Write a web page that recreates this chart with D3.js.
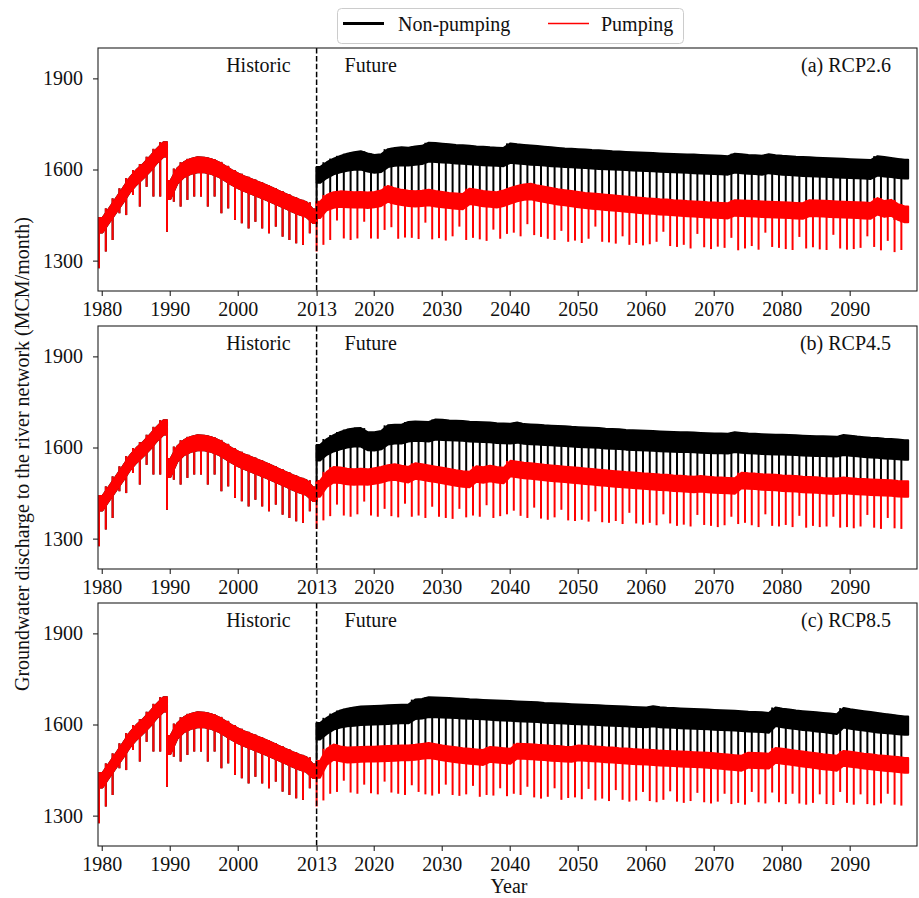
<!DOCTYPE html>
<html>
<head>
<meta charset="utf-8">
<script src="https://cdn.jsdelivr.net/npm/d3@7"></script>
<style>
  body { margin: 0; background: #fff; }
  text { font-family: "Liberation Serif", "Times New Roman", serif; fill: #111; }
</style>
</head>
<body>
<div id="chart"></div>
<script>
// one value per model year: band top, band bottom, and the yearly low spike
// historic run (1980-2011) is the same for both series and all scenarios
var histStart = 1979.6;
var histBreak = 10; // recharge drop at the start of 1990
var histTop = [1440, 1472, 1505, 1538, 1572, 1598, 1618, 1642, 1668, 1690,
  1562, 1603, 1624, 1635, 1640, 1639, 1634, 1625, 1612, 1598,
  1586, 1576, 1567, 1558, 1549, 1539, 1529, 1519, 1509, 1500, 1492, 1468];
var histBot = [1393, 1426, 1458, 1490, 1524, 1550, 1571, 1594, 1621, 1643,
  1503, 1553, 1575, 1586, 1591, 1591, 1586, 1577, 1564, 1550,
  1538, 1528, 1519, 1510, 1501, 1491, 1481, 1471, 1461, 1452, 1444, 1424];
var histDip = [1275, 1330, 1368, 1456, 1450, 1516, 1478, 1543, 1511, 1511,
  1395, 1494, 1478, 1500, 1511, 1511, 1478, 1511, 1456, 1472,
  1434, 1423, 1406, 1428, 1406, 1390, 1412, 1379, 1368, 1357, 1352, 1390];

// future run, model years 2012-2098 (the axis labels the boundary "2013")
var futStart = 2011.6;

// (a) RCP2.6
var npTopA = [1608, 1624, 1636, 1645, 1652, 1657, 1660, 1653,
  1648, 1650, 1667, 1671, 1673, 1672, 1676, 1678, 1688, 1687,
  1685, 1683, 1681, 1680, 1678, 1676, 1675, 1673, 1672, 1671,
  1686, 1683, 1681, 1679, 1677, 1675, 1673, 1671, 1669, 1668,
  1667, 1666, 1664, 1663, 1662, 1660, 1659, 1658, 1657, 1656,
  1655, 1654, 1653, 1652, 1651, 1650, 1649, 1649, 1648, 1647,
  1646, 1645, 1644, 1652, 1650, 1648, 1647, 1645, 1650, 1647,
  1645, 1644, 1642, 1641, 1640, 1639, 1638, 1637, 1636, 1635,
  1634, 1633, 1632, 1631, 1644, 1641, 1638, 1635, 1632];
var npBotA = [1556, 1572, 1584, 1591, 1596, 1599, 1600, 1593,
  1589, 1592, 1608, 1612, 1614, 1613, 1616, 1618, 1626, 1625,
  1623, 1622, 1620, 1619, 1617, 1616, 1614, 1613, 1612, 1611,
  1622, 1620, 1618, 1616, 1615, 1613, 1611, 1610, 1608, 1607,
  1606, 1605, 1603, 1602, 1601, 1600, 1599, 1598, 1597, 1596,
  1595, 1594, 1593, 1592, 1591, 1590, 1589, 1588, 1587, 1586,
  1585, 1584, 1583, 1590, 1588, 1586, 1585, 1583, 1588, 1585,
  1583, 1582, 1580, 1579, 1578, 1577, 1576, 1575, 1574, 1573,
  1572, 1571, 1570, 1569, 1580, 1577, 1575, 1572, 1570];
var pTopA = [1494, 1516, 1525, 1528, 1527, 1525, 1526, 1524,
  1526, 1531, 1546, 1538, 1533, 1530, 1528, 1530, 1533, 1529,
  1526, 1523, 1521, 1519, 1537, 1533, 1529, 1527, 1525, 1531,
  1539, 1546, 1551, 1553, 1547, 1543, 1539, 1535, 1532, 1529,
  1526, 1523, 1521, 1519, 1517, 1515, 1513, 1511, 1509, 1507,
  1505, 1504, 1502, 1501, 1499, 1498, 1496, 1495, 1494, 1492,
  1491, 1490, 1489, 1499, 1498, 1497, 1496, 1495, 1494, 1493,
  1492, 1491, 1490, 1489, 1499, 1498, 1497, 1496, 1495, 1494,
  1493, 1492, 1491, 1490, 1506, 1496, 1500, 1486, 1478];
var pBotA = [1440, 1466, 1474, 1477, 1476, 1475, 1476, 1473,
  1476, 1480, 1494, 1487, 1483, 1480, 1478, 1480, 1482, 1478,
  1476, 1473, 1471, 1469, 1486, 1483, 1479, 1477, 1475, 1480,
  1488, 1495, 1500, 1502, 1497, 1493, 1489, 1485, 1482, 1479,
  1476, 1473, 1471, 1469, 1467, 1465, 1463, 1461, 1459, 1457,
  1455, 1454, 1452, 1451, 1449, 1448, 1446, 1445, 1444, 1442,
  1441, 1440, 1439, 1448, 1447, 1446, 1445, 1444, 1443, 1442,
  1441, 1440, 1439, 1438, 1447, 1446, 1445, 1444, 1443, 1442,
  1441, 1440, 1439, 1438, 1452, 1444, 1448, 1434, 1426];
var pDipA = [1330, 1352, 1368, 1432, 1373, 1368, 1373, 1428,
  1373, 1372, 1401, 1410, 1372, 1376, 1375, 1371, 1425, 1370,
  1374, 1366, 1380, 1412, 1368, 1375, 1370, 1365, 1402, 1372,
  1388, 1392, 1380, 1420, 1384, 1378, 1372, 1368, 1398, 1362,
  1366, 1358, 1372, 1412, 1362, 1360, 1356, 1380, 1352, 1358,
  1350, 1354, 1362, 1395, 1348, 1345, 1352, 1340, 1388, 1344,
  1338, 1346, 1342, 1375, 1334, 1340, 1348, 1336, 1392, 1345,
  1342, 1338, 1335, 1378, 1340, 1344, 1337, 1335, 1385, 1340,
  1336, 1338, 1342, 1380, 1345, 1334, 1365, 1328, 1335];

// (b) RCP4.5
var npTopB = [1608, 1628, 1641, 1651, 1659, 1663, 1664, 1651,
  1650, 1654, 1673, 1675, 1675, 1684, 1686, 1685, 1684, 1692,
  1691, 1689, 1688, 1687, 1685, 1684, 1683, 1682, 1680, 1679,
  1678, 1682, 1677, 1676, 1675, 1673, 1672, 1671, 1670, 1668,
  1667, 1666, 1665, 1664, 1662, 1661, 1660, 1658, 1657, 1656,
  1655, 1654, 1653, 1652, 1651, 1650, 1650, 1649, 1648, 1647,
  1646, 1646, 1645, 1650, 1648, 1646, 1645, 1644, 1643, 1642,
  1642, 1641, 1640, 1639, 1638, 1637, 1637, 1636, 1635, 1641,
  1639, 1636, 1634, 1632, 1631, 1629, 1628, 1626, 1624];
var npBotB = [1557, 1576, 1587, 1594, 1600, 1603, 1603, 1591,
  1590, 1594, 1610, 1613, 1613, 1620, 1622, 1621, 1620, 1626,
  1625, 1624, 1623, 1622, 1620, 1619, 1618, 1617, 1615, 1614,
  1613, 1616, 1612, 1611, 1610, 1608, 1607, 1606, 1605, 1603,
  1602, 1601, 1600, 1599, 1597, 1596, 1595, 1593, 1592, 1591,
  1590, 1589, 1588, 1587, 1586, 1585, 1585, 1584, 1583, 1582,
  1581, 1581, 1580, 1585, 1583, 1581, 1580, 1579, 1578, 1577,
  1577, 1576, 1575, 1574, 1573, 1572, 1572, 1571, 1570, 1575,
  1573, 1571, 1569, 1567, 1566, 1564, 1563, 1561, 1560];
var pTopB = [1490, 1520, 1536, 1534, 1530, 1528, 1530, 1528,
  1532, 1536, 1542, 1545, 1540, 1536, 1548, 1545, 1541, 1537,
  1533, 1529, 1525, 1522, 1520, 1538, 1535, 1540, 1536, 1533,
  1556, 1553, 1550, 1548, 1546, 1543, 1541, 1539, 1537, 1535,
  1533, 1531, 1529, 1527, 1525, 1523, 1521, 1519, 1518, 1516,
  1514, 1513, 1511, 1510, 1508, 1507, 1505, 1504, 1506, 1504,
  1502, 1501, 1500, 1499, 1517, 1515, 1514, 1512, 1511, 1510,
  1508, 1507, 1506, 1504, 1503, 1502, 1500, 1499, 1498, 1501,
  1499, 1497, 1496, 1495, 1494, 1493, 1492, 1490, 1489];
var pBotB = [1438, 1470, 1485, 1483, 1479, 1477, 1479, 1477,
  1481, 1485, 1491, 1494, 1489, 1485, 1497, 1494, 1490, 1486,
  1482, 1478, 1474, 1471, 1469, 1487, 1484, 1489, 1485, 1482,
  1505, 1502, 1499, 1497, 1495, 1492, 1490, 1488, 1486, 1484,
  1482, 1480, 1478, 1476, 1474, 1472, 1470, 1468, 1467, 1465,
  1463, 1462, 1460, 1459, 1457, 1456, 1454, 1453, 1455, 1453,
  1451, 1450, 1449, 1448, 1466, 1464, 1463, 1461, 1460, 1459,
  1457, 1456, 1455, 1453, 1452, 1451, 1449, 1448, 1447, 1450,
  1448, 1446, 1445, 1444, 1443, 1442, 1441, 1439, 1438];
var pDipB = [1332, 1360, 1374, 1412, 1376, 1372, 1380, 1422,
  1376, 1372, 1398, 1374, 1370, 1415, 1372, 1376, 1368, 1405,
  1372, 1368, 1365, 1398, 1370, 1376, 1372, 1410, 1368, 1374,
  1380, 1392, 1375, 1368, 1402, 1366, 1362, 1370, 1395, 1360,
  1358, 1362, 1356, 1390, 1354, 1352, 1358, 1348, 1385, 1350,
  1346, 1352, 1344, 1380, 1350, 1342, 1346, 1340, 1378, 1345,
  1342, 1338, 1344, 1372, 1348, 1352, 1344, 1338, 1380, 1342,
  1340, 1345, 1338, 1375, 1336, 1342, 1338, 1340, 1372, 1336,
  1338, 1334, 1340, 1378, 1336, 1332, 1368, 1334, 1332];

// (c) RCP8.5
var npTopC = [1605, 1622, 1636, 1646, 1652, 1656, 1659, 1660,
  1661, 1662, 1663, 1664, 1665, 1666, 1682, 1684, 1690, 1689,
  1688, 1687, 1686, 1685, 1683, 1682, 1681, 1680, 1679, 1678,
  1677, 1676, 1675, 1674, 1673, 1671, 1670, 1669, 1668, 1667,
  1666, 1665, 1664, 1663, 1662, 1661, 1660, 1659, 1658, 1657,
  1656, 1660, 1657, 1655, 1654, 1653, 1652, 1651, 1650, 1649,
  1648, 1647, 1646, 1645, 1644, 1642, 1641, 1640, 1638, 1656,
  1652, 1649, 1646, 1644, 1642, 1640, 1638, 1636, 1634, 1654,
  1650, 1647, 1644, 1641, 1638, 1635, 1632, 1629, 1626];
var npBotC = [1551, 1569, 1583, 1590, 1594, 1596, 1598, 1599,
  1600, 1601, 1602, 1603, 1604, 1604, 1618, 1620, 1625, 1624,
  1623, 1622, 1621, 1620, 1619, 1618, 1617, 1616, 1614, 1613,
  1612, 1611, 1610, 1609, 1608, 1606, 1605, 1604, 1603, 1602,
  1601, 1600, 1599, 1598, 1597, 1596, 1595, 1594, 1593, 1592,
  1591, 1594, 1591, 1590, 1589, 1588, 1587, 1586, 1585, 1584,
  1583, 1582, 1581, 1580, 1579, 1577, 1576, 1575, 1573, 1595,
  1591, 1588, 1585, 1582, 1580, 1577, 1575, 1572, 1569, 1590,
  1586, 1583, 1580, 1577, 1574, 1572, 1570, 1568, 1566];
var pTopC = [1480, 1520, 1534, 1528, 1524, 1525, 1526, 1527,
  1527, 1528, 1529, 1530, 1531, 1531, 1533, 1536, 1539, 1535,
  1531, 1528, 1525, 1522, 1520, 1518, 1516, 1526, 1524, 1522,
  1520, 1537, 1536, 1535, 1533, 1532, 1530, 1529, 1527, 1526,
  1531, 1530, 1528, 1527, 1525, 1524, 1522, 1521, 1519, 1518,
  1517, 1516, 1514, 1513, 1512, 1511, 1510, 1509, 1508, 1507,
  1505, 1503, 1501, 1499, 1497, 1507, 1506, 1505, 1504, 1523,
  1520, 1517, 1514, 1511, 1508, 1505, 1502, 1500, 1497, 1513,
  1510, 1507, 1504, 1502, 1499, 1497, 1495, 1493, 1490];
var pBotC = [1425, 1468, 1484, 1479, 1475, 1476, 1477, 1478,
  1478, 1479, 1480, 1481, 1482, 1482, 1484, 1487, 1490, 1486,
  1482, 1479, 1476, 1473, 1471, 1469, 1467, 1477, 1475, 1473,
  1471, 1488, 1487, 1486, 1484, 1483, 1481, 1480, 1478, 1477,
  1482, 1481, 1479, 1478, 1476, 1475, 1473, 1472, 1470, 1469,
  1468, 1467, 1465, 1464, 1463, 1462, 1461, 1460, 1459, 1458,
  1456, 1454, 1452, 1450, 1448, 1458, 1457, 1456, 1455, 1474,
  1471, 1468, 1465, 1462, 1459, 1456, 1453, 1451, 1448, 1464,
  1461, 1458, 1455, 1453, 1450, 1448, 1446, 1444, 1441];
var pDipC = [1330, 1350, 1372, 1378, 1415, 1376, 1372, 1402,
  1374, 1370, 1412, 1376, 1372, 1368, 1400, 1378, 1370, 1366,
  1372, 1402, 1368, 1365, 1370, 1398, 1362, 1368, 1366, 1390,
  1364, 1372, 1368, 1395, 1360, 1356, 1362, 1390, 1352, 1358,
  1360, 1354, 1388, 1350, 1356, 1348, 1384, 1352, 1346, 1350,
  1378, 1348, 1344, 1352, 1380, 1346, 1342, 1348, 1375, 1344,
  1340, 1346, 1372, 1338, 1342, 1336, 1378, 1344, 1340, 1376,
  1344, 1338, 1372, 1340, 1336, 1342, 1370, 1338, 1335, 1378,
  1342, 1336, 1370, 1338, 1334, 1340, 1372, 1336, 1333];

var panelTitles = ["(a) RCP2.6", "(b) RCP4.5", "(c) RCP8.5"];
var npTops = [npTopA, npTopB, npTopC];
var npBots = [npBotA, npBotB, npBotC];
var pTops = [pTopA, pTopB, pTopC];
var pBots = [pBotA, pBotB, pBotC];
var pDips = [pDipA, pDipB, pDipC];

var xTickPos = [1980, 1990, 2000, futStart, 2020, 2030, 2040, 2050, 2060, 2070, 2080, 2090];
var xTickLabels = ["1980", "1990", "2000", "2013", "2020", "2030", "2040", "2050", "2060", "2070", "2080", "2090"];
var yTicks = [1300, 1600, 1900];

var seriesNames = ["Non-pumping", "Pumping"];
var seriesColors = ["#000000", "#ff0000"];

var width = 919, height = 898;
var left = 98, right = 917, panelH = 243;
var panelTops = [48, 326, 603];

var svg = d3.select("#chart")
  .append("svg")
  .attr("width", width)
  .attr("height", height);

var x = d3.scaleLinear().domain([1979.45, 2099.9]).range([left, right]);

// annual values sit mid-year, the band is held flat out to the segment ends
function bandPoints(start, top, bot) {
  var pts = top.map((t, i) => ({ x: start + i + 0.5, top: t, bot: bot[i] }));
  pts.unshift({ x: start, top: top[0], bot: bot[0] });
  pts.push({ x: start + top.length, top: top[top.length - 1], bot: bot[bot.length - 1] });
  return pts;
}

function drawBand(g, y, start, top, bot, color) {
  var area = d3.area()
    .x((d) => x(d.x))
    .y0((d) => y(d.bot))
    .y1((d) => y(d.top));
  g.append("path")
    .datum(bandPoints(start, top, bot))
    .attr("d", area)
    .attr("fill", color)
    .attr("stroke", color)
    .attr("stroke-width", 2)
    .attr("stroke-linejoin", "round");
}

// the spike at each year start runs from the higher of the two neighbouring tops
function drawDips(g, y, start, from, to, color) {
  g.append("g")
    .selectAll("line")
    .data(from)
    .enter()
    .append("line")
    .attr("x1", (d, i) => x(start + i))
    .attr("x2", (d, i) => x(start + i))
    .attr("y1", (d, i) => y(i > 0 ? Math.max(d, from[i - 1]) : d))
    .attr("y2", (d, i) => y(to[i]))
    .attr("stroke", color)
    .attr("stroke-width", 2);
}

function drawHistoric(g, y, color) {
  var b = histBreak;
  drawBand(g, y, histStart, histTop.slice(0, b), histBot.slice(0, b), color);
  drawBand(g, y, histStart + b, histTop.slice(b), histBot.slice(b), color);
  drawDips(g, y, histStart, histTop, histDip, color);
}

panelTops.forEach((top, k) => {
  var y = d3.scaleLinear().domain([1200, 2000]).range([top + panelH, top]);
  var g = svg.append("g");

  // non-pumping first, pumping drawn over it
  drawHistoric(g, y, seriesColors[0]);
  drawBand(g, y, futStart, npTops[k], npBots[k], seriesColors[0]);
  drawDips(g, y, futStart, npTops[k], pBots[k], seriesColors[0]);

  drawHistoric(g, y, seriesColors[1]);
  drawBand(g, y, futStart, pTops[k], pBots[k], seriesColors[1]);
  drawDips(g, y, futStart, pTops[k], pDips[k], seriesColors[1]);

  g.append("line")
    .attr("x1", x(futStart)).attr("x2", x(futStart))
    .attr("y1", top).attr("y2", top + panelH)
    .attr("stroke", "#000")
    .attr("stroke-width", 1.5)
    .attr("stroke-dasharray", "5.5,2.4");

  g.append("rect")
    .attr("x", left).attr("y", top)
    .attr("width", right - left).attr("height", panelH)
    .attr("fill", "none")
    .attr("stroke", "#222")
    .attr("stroke-width", 1.1);

  var xAxis = g.append("g")
    .attr("transform", `translate(0,${top + panelH})`)
    .call(d3.axisBottom(x).tickValues(xTickPos).tickFormat((d, i) => xTickLabels[i]).tickSize(5).tickPadding(6));
  var yAxis = g.append("g")
    .attr("transform", `translate(${left},0)`)
    .call(d3.axisLeft(y).tickValues(yTicks).tickFormat(d3.format("d")).tickSize(5).tickPadding(10));
  [xAxis, yAxis].forEach((a) => {
    a.select(".domain").remove();
    a.selectAll("line").attr("stroke", "#222").attr("stroke-width", 1.1);
    a.selectAll("text")
      .attr("font-family", "Liberation Serif, serif")
      .attr("font-size", 20)
      .attr("fill", "#111");
  });

  g.append("text")
    .attr("x", x(futStart) - 26).attr("y", top + 24)
    .attr("text-anchor", "end")
    .attr("font-size", 20)
    .text("Historic");
  g.append("text")
    .attr("x", x(futStart) + 28).attr("y", top + 24)
    .attr("font-size", 20)
    .text("Future");
  g.append("text")
    .attr("x", right - 26).attr("y", top + 24)
    .attr("text-anchor", "end")
    .attr("font-size", 20)
    .text(panelTitles[k]);
});

svg.append("text")
  .attr("transform", "translate(29,454) rotate(-90)")
  .attr("text-anchor", "middle")
  .attr("font-size", 20)
  .text("Groundwater discharge to the river network (MCM/month)");

svg.append("text")
  .attr("x", 509).attr("y", 893)
  .attr("text-anchor", "middle")
  .attr("font-size", 20)
  .text("Year");

// legend
var legend = svg.append("g");
legend.append("rect")
  .attr("x", 337.5).attr("y", 8.5)
  .attr("width", 346).attr("height", 35)
  .attr("rx", 4)
  .attr("fill", "#fff")
  .attr("stroke", "#cccccc");
var legendItems = [
  { x: 343, textX: 398, width: 3 },
  { x: 548, textX: 601, width: 1.5 },
];
legendItems.forEach((d, i) => {
  legend.append("line")
    .attr("x1", d.x).attr("x2", d.x + 41)
    .attr("y1", 23.5).attr("y2", 23.5)
    .attr("stroke", seriesColors[i])
    .attr("stroke-width", d.width);
  legend.append("text")
    .attr("x", d.textX).attr("y", 30.5)
    .attr("font-size", 20)
    .text(seriesNames[i]);
});
</script>
</body>
</html>
